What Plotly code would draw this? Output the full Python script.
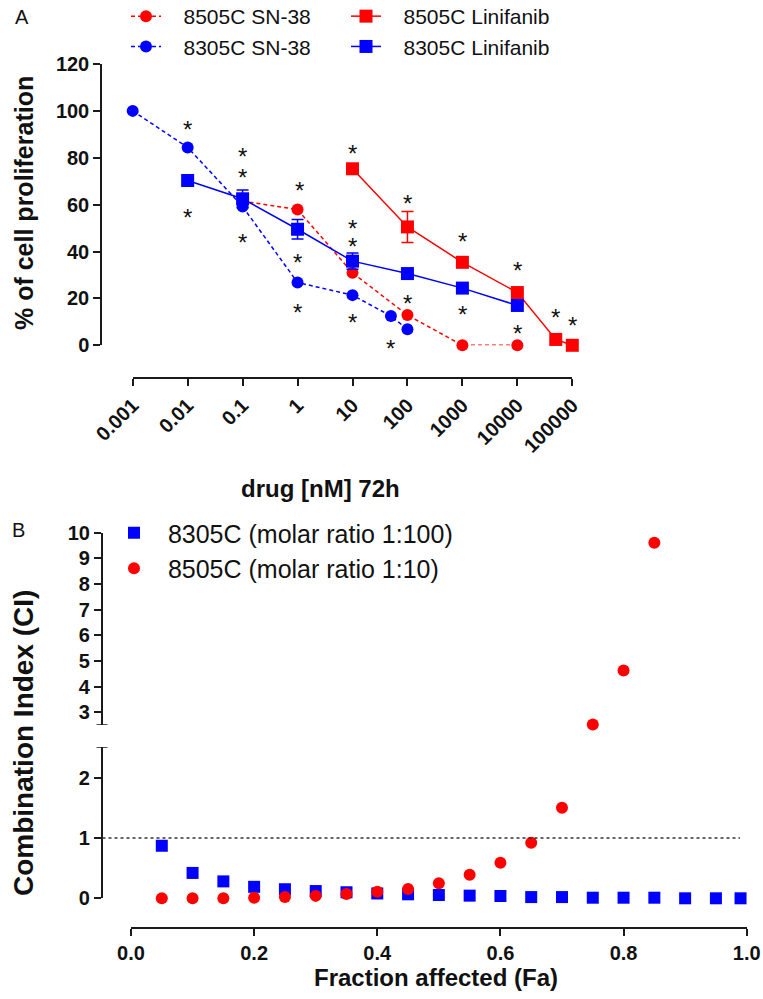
import numpy as np
import plotly.graph_objects as go

# ---------------- Panel A data ----------------
dose_sn38_8505 = [0.1, 1, 10, 100, 1000, 10000]
prolif_sn38_8505 = [61.5, 57.9, 30.9, 12.9, 0, 0]

dose_lin_8505 = [10, 100, 1000, 10000, 50000, 100000]
prolif_lin_8505 = [75.3, 50.5, 35.4, 22.5, 2.5, 0]
err_lin_8505 = [None, 6.6, None, None, None, None]

dose_sn38_8305 = [0.001, 0.01, 0.1, 1, 10, 50, 100]
prolif_sn38_8305 = [100, 84.4, 59.2, 26.8, 21.4, 12.5, 6.8]

dose_lin_8305 = [0.01, 0.1, 1, 10, 100, 1000, 10000]
prolif_lin_8305 = [70.3, 62.5, 49.5, 35.9, 30.6, 24.4, 17.0]
err_lin_8305 = [None, 3.8, 4.2, 3.5, None, None, None]

dose_ticks = [0.001, 0.01, 0.1, 1, 10, 100, 1000, 10000, 100000]
dose_tick_text = ["0.001", "0.01", "0.1", "1", "10", "100", "1000", "10000", "100000"]
prolif_ticks = [0, 20, 40, 60, 80, 100, 120]

# significance asterisks (dose, % proliferation)
star_dose = [0.01, 0.01, 0.1, 0.1, 0.1, 1.1, 1, 1, 10, 10, 10, 10,
             100, 100, 50, 100, 1000, 1000, 1000, 10000, 10000, 10000, 50000, 100000]
star_val = [94.5, 56.9, 83.1, 74.3, 46.5, 68.7, 37.7, 16.5, 84.2, 52.3, 44.8, 12.5,
            63.2, 20.3, 1.1, -4.2, 46.9, 15.7, -8.9, 34.4, 7.4, -7.0, 14.3, 11.1]

# ---------------- Panel B data ----------------
fa_8305 = [0.05, 0.10, 0.15, 0.20, 0.25, 0.30, 0.35, 0.40, 0.45, 0.50,
           0.55, 0.60, 0.65, 0.70, 0.75, 0.80, 0.85, 0.90, 0.95, 0.99]
ci_8305 = [0.87, 0.42, 0.28, 0.19, 0.15, 0.12, 0.10, 0.08, 0.066, 0.055,
           0.044, 0.038, 0.02, 0.02, 0.01, 0.01, 0.01, 0.0, 0.0, 0.0]

fa_8505 = [0.05, 0.10, 0.15, 0.20, 0.25, 0.30, 0.35, 0.40, 0.45, 0.50,
           0.55, 0.60, 0.65, 0.70, 0.75, 0.80, 0.85]
ci_8505 = [0.0, 0.0, 0.0, 0.01, 0.02, 0.04, 0.07, 0.11, 0.155, 0.25,
           0.39, 0.59, 0.92, 1.50, 2.52, 4.63, 9.61]

fa_ticks = [0.0, 0.2, 0.4, 0.6, 0.8, 1.0]
fa_tick_text = ["0.0", "0.2", "0.4", "0.6", "0.8", "1.0"]
ci_ticks_low = [0, 1, 2]
ci_ticks_high = [3, 4, 5, 6, 7, 8, 9, 10]
ci_break = 2.5

# ---------------- helpers ----------------
W, H = 763, 999
def px(x):
    return x / W
def py(y):
    return 1 - y / H

RED = "#FF0000"
BLUE = "#0000FF"
AX = "#1a1a1a"
FONT = "Arial, Liberation Sans, sans-serif"
NB = "\u00a0"

fig = go.Figure()

# Panel A traces (red first, blue on top)
fig.add_trace(go.Scatter(
    x=dose_sn38_8505, y=prolif_sn38_8505, mode="lines+markers",
    name=NB * 3 + "8505C SN-38", legend="legend",
    line=dict(color=RED, width=1.5, dash="4px,3px"),
    marker=dict(symbol="circle", size=12, color=RED),
    cliponaxis=False, xaxis="x", yaxis="y"))
fig.add_trace(go.Scatter(
    x=dose_lin_8505, y=prolif_lin_8505, mode="lines+markers",
    name=NB * 3 + "8505C Linifanib", legend="legend2",
    line=dict(color=RED, width=1.5),
    marker=dict(symbol="square", size=13, color=RED),
    error_y=dict(type="data", array=err_lin_8505, color=RED, thickness=1.5, width=6),
    cliponaxis=False, xaxis="x", yaxis="y"))
fig.add_trace(go.Scatter(
    x=dose_sn38_8305, y=prolif_sn38_8305, mode="lines+markers",
    name=NB * 3 + "8305C SN-38", legend="legend",
    line=dict(color=BLUE, width=1.5, dash="4px,3px"),
    marker=dict(symbol="circle", size=12, color=BLUE),
    cliponaxis=False, xaxis="x", yaxis="y"))
fig.add_trace(go.Scatter(
    x=dose_lin_8305, y=prolif_lin_8305, mode="lines+markers",
    name=NB * 3 + "8305C Linifanib", legend="legend2",
    line=dict(color=BLUE, width=1.5),
    marker=dict(symbol="square", size=13, color=BLUE),
    error_y=dict(type="data", array=err_lin_8305, color=BLUE, thickness=1.5, width=6),
    cliponaxis=False, xaxis="x", yaxis="y"))

# Panel B traces: split at the axis break
fa83 = np.array(fa_8305); ci83 = np.array(ci_8305)
fa85 = np.array(fa_8505); ci85 = np.array(ci_8505)
lo83 = ci83 < ci_break
lo85 = ci85 < ci_break

fig.add_trace(go.Scatter(
    x=fa83[lo83], y=ci83[lo83], mode="markers",
    name=NB * 2 + "8305C (molar ratio 1:100)", legend="legend3", legendgroup="g83",
    marker=dict(symbol="square", size=12, color=BLUE),
    cliponaxis=False, xaxis="x2", yaxis="y3"))
fig.add_trace(go.Scatter(
    x=fa85[lo85], y=ci85[lo85], mode="markers",
    name=NB * 2 + "8505C (molar ratio 1:10)", legend="legend3", legendgroup="g85",
    marker=dict(symbol="circle", size=12, color=RED),
    cliponaxis=False, xaxis="x2", yaxis="y3"))
fig.add_trace(go.Scatter(
    x=fa85[~lo85], y=ci85[~lo85], mode="markers", showlegend=False, legendgroup="g85",
    marker=dict(symbol="circle", size=12, color=RED),
    cliponaxis=False, xaxis="x2", yaxis="y4"))
if (~lo83).any():
    fig.add_trace(go.Scatter(
        x=fa83[~lo83], y=ci83[~lo83], mode="markers", showlegend=False, legendgroup="g83",
        marker=dict(symbol="square", size=12, color=BLUE),
        cliponaxis=False, xaxis="x2", yaxis="y4"))

axis_common = dict(
    showgrid=False, zeroline=False, showline=True, linecolor=AX, linewidth=1.5,
    ticks="outside", ticklen=7, tickwidth=1.5, tickcolor=AX, automargin=False,
    tickfont=dict(family=FONT, size=20, color="#111", weight="bold"),
)

legend_common = dict(xanchor="left", yanchor="top", bgcolor="rgba(0,0,0,0)",
                     borderwidth=0)

fig.update_layout(
    width=W, height=H,
    margin=dict(l=0, r=0, t=0, b=0, pad=0, autoexpand=False),
    paper_bgcolor="white", plot_bgcolor="white",
    font=dict(family=FONT, color="#111"),
    xaxis=dict(**axis_common, type="log", domain=[px(132.7), px(572.3)], range=[-3, 5],
               anchor="free", position=py(378), tickvals=dose_ticks,
               ticktext=dose_tick_text, tickangle=-45),
    yaxis=dict(**axis_common, domain=[py(345.3), py(64)], range=[0, 120],
               anchor="free", position=px(101), tickvals=prolif_ticks),
    xaxis2=dict(**axis_common, domain=[px(131), px(746.7)], range=[0, 1],
                anchor="free", position=py(928.3), tickvals=fa_ticks,
                ticktext=fa_tick_text),
    yaxis3=dict(**axis_common, domain=[py(898.3), py(747.3)], range=[0, ci_break],
                anchor="free", position=px(101.7), tickvals=ci_ticks_low),
    yaxis4=dict(**axis_common, domain=[py(725), py(532.7)], range=[ci_break, 10],
                anchor="free", position=px(101.7), tickvals=ci_ticks_high),
    legend=dict(**legend_common, x=px(126), y=py(-4),
                font=dict(family=FONT, size=21, color="#111"), tracegroupgap=0),
    legend2=dict(**legend_common, x=px(346), y=py(-4),
                 font=dict(family=FONT, size=21, color="#111"), tracegroupgap=0),
    legend3=dict(**legend_common, x=px(114), y=py(510),
                 font=dict(family=FONT, size=25, color="#111"), tracegroupgap=0),
)

def note(text, x, y, size, bold=False, angle=0):
    f = dict(family=FONT, size=size, color="#111")
    if bold:
        f["weight"] = "bold"
    return dict(text=text, x=px(x), y=py(y), xref="paper", yref="paper",
                xanchor="center", yanchor="middle", textangle=angle,
                showarrow=False, font=f)

annotations = [
    note("A", 22, 17, 20),
    note("B", 18, 530, 20),
    note("% of cell proliferation", 24, 203, 25, bold=True, angle=-90),
    note("drug [nM] 72h", 320, 488, 24, bold=True),
    note("Combination Index (CI)", 23, 743, 28, bold=True, angle=-90),
    note("Fraction affected (Fa)", 436, 977, 24, bold=True),
]
# asterisks
for d, v in zip(star_dose, star_val):
    annotations.append(dict(text="*", x=np.log10(d), y=v, xref="x", yref="y",
                            xanchor="center", yanchor="middle",
                            showarrow=False, yshift=-6,
                            font=dict(family=FONT, size=24, color="#111")))
fig.update_layout(annotations=annotations)

# axis-break caps and CI = 1 reference line
shapes = [
    dict(type="line", xref="paper", yref="y3", x0=px(96.5), x1=px(107.5),
         y0=ci_break, y1=ci_break, line=dict(color=AX, width=1.5)),
    dict(type="line", xref="paper", yref="y4", x0=px(96.5), x1=px(107.5),
         y0=ci_break, y1=ci_break, line=dict(color=AX, width=1.5)),
    dict(type="line", xref="paper", yref="y3", x0=px(102.5), x1=px(740),
         y0=1, y1=1, line=dict(color="#333", width=1.5, dash="dot")),
]
fig.update_layout(shapes=shapes)

fig.write_html(
    "out.html",
    config={"displayModeBar": False},
    post_script="document.body.style.margin='0';document.body.style.overflow='hidden';",
)
